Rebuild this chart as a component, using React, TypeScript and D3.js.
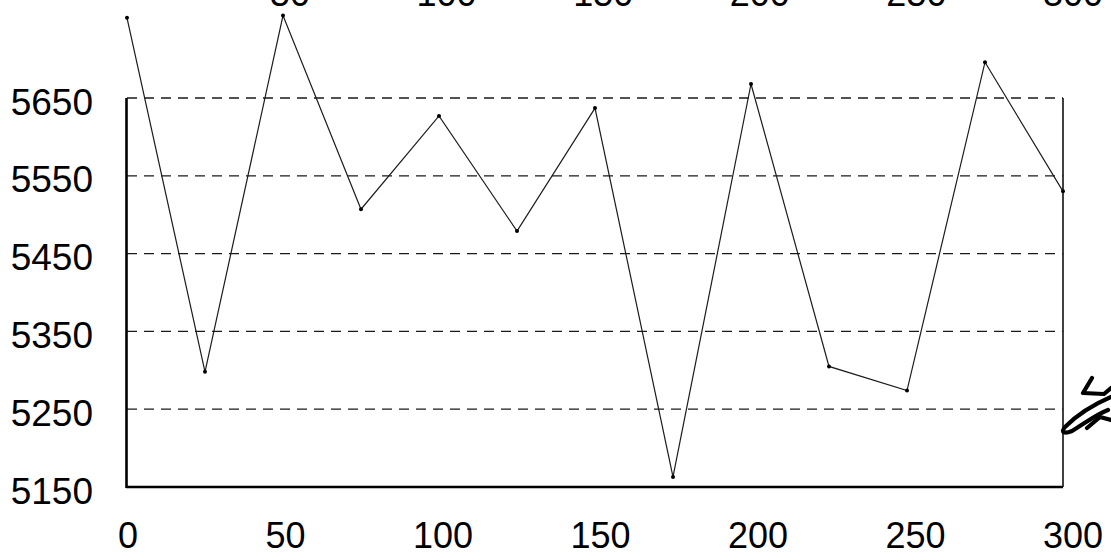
import React from "react";
import * as d3 from "d3";

const xValues = [0, 25, 50, 75, 100, 125, 150, 175, 200, 225, 250, 275, 300];
const yValues = [5753, 5298, 5756, 5507, 5627, 5479, 5637, 5163, 5668, 5305, 5274, 5696, 5530];
const yTicks = [5150, 5250, 5350, 5450, 5550, 5650];
const xTicks = [0, 50, 100, 150, 200, 250, 300];
const topTicks = [50, 100, 150, 200, 250, 300];

const W = 1111;
const H = 557;
const FONT = "'Liberation Sans', Arial, sans-serif";

export default function App() {
  const x = d3.scaleLinear().domain([0, 300]).range([127, 1063]);
  const y = d3.scaleLinear().domain([5150, 5650]).range([487, 98]);
  const labelX = d3.scaleLinear().domain([0, 300]).range([128, 1073]);
  const topX = d3.scaleLinear().domain([50, 300]).range([290, 1073]);

  const pts = xValues.map((v, i) => [v, yValues[i]] as [number, number]);
  const line = d3
    .line<[number, number]>()
    .x((d) => x(d[0]))
    .y((d) => y(d[1]));

  const [x0, x1] = x.range();
  const yTop = y(5650);
  const yBot = y(5150);

  return (
    <svg
      width={W}
      height={H}
      style={{ position: "absolute", left: 0, top: 0, background: "#fff" }}
    >
      <rect x={0} y={0} width={W} height={H} fill="#fff" />
      {/* dashed grid lines */}
      {yTicks
        .filter((t) => t !== 5150)
        .map((t) => (
          <line
            key={"g" + t}
            x1={x0}
            x2={x1}
            y1={y(t)}
            y2={y(t)}
            stroke="#1a1a1a"
            strokeWidth={1.3}
            strokeDasharray="10 7"
          />
        ))}
      {/* axes */}
      <line x1={x0 - 0.5} x2={x0 - 0.5} y1={yTop} y2={yBot + 1} stroke="#000" strokeWidth={2.6} />
      <line x1={x0 - 1} x2={x1} y1={yBot} y2={yBot} stroke="#000" strokeWidth={2.6} />
      <line x1={x1} x2={x1} y1={yTop} y2={yBot} stroke="#111" strokeWidth={1.6} />

      {/* data line */}
      <path d={line(pts) || ""} fill="none" stroke="#1c1c1c" strokeWidth={1.2} />
      {pts.map((p, i) => (
        <circle key={"p" + i} cx={x(p[0])} cy={y(p[1])} r={2} fill="#000" />
      ))}

      {/* y labels */}
      {yTicks.map((t) => (
        <text
          key={"yl" + t}
          x={93}
          y={y(t) + 16.5}
          textAnchor="end"
          fontFamily={FONT}
          fontSize={37}
          fill="#000"
        >
          {t}
        </text>
      ))}

      {/* bottom x labels */}
      {xTicks.map((t) => (
        <text
          key={"xl" + t}
          x={labelX(t)}
          y={548}
          textAnchor="middle"
          fontFamily={FONT}
          fontSize={36}
          fill="#000"
        >
          {t}
        </text>
      ))}

      {/* labels cut off at the top edge */}
      {topTicks.map((t) => (
        <text
          key={"tl" + t}
          x={topX(t)}
          y={6}
          textAnchor="middle"
          fontFamily={FONT}
          fontSize={36}
          fill="#000"
        >
          {t}
        </text>
      ))}

      {/* handwritten mark */}
      <g fill="none" stroke="#000" strokeWidth={4.2} strokeLinecap="round" strokeLinejoin="round">
        <path d="M1092,378 L1083,393 L1104,394 L1111,388" />
        <path d="M1111,397 C1097,403 1080,412 1065,427 C1060,433 1065,434 1072,431 C1085,423 1097,414 1108,410" />
        <path d="M1087,428 L1100,417 L1111,420" />
      </g>
    </svg>
  );
}
